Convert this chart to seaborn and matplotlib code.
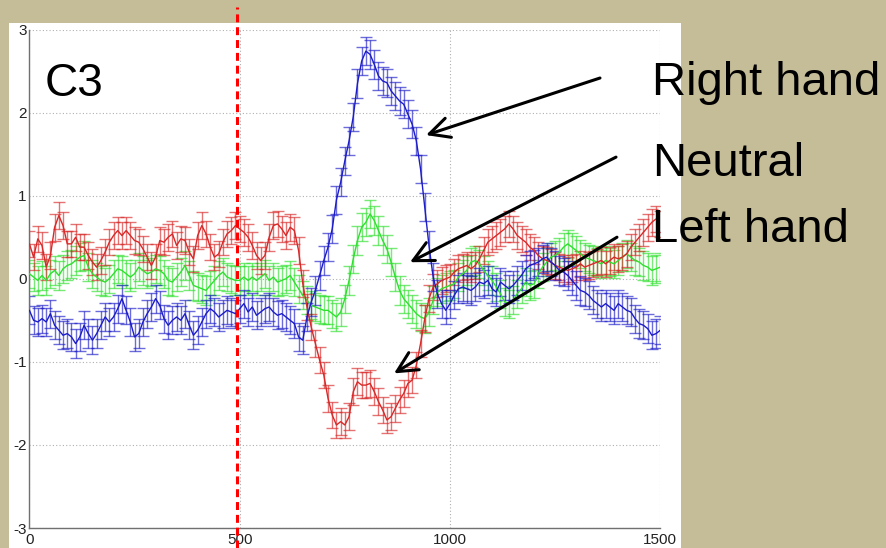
import matplotlib
matplotlib.use("Agg")
import matplotlib.pyplot as plt
import matplotlib.patches as mpatches
import pandas as pd
import seaborn as sns

# Grand-average ERP at electrode C3, one sample every 10 ms from 0 to 1500 ms
time_ms = list(range(0, 1501, 10))

right_hand = [
    -0.38, -0.50, -0.52, -0.48, -0.52, -0.42, -0.56, -0.62, -0.68, -0.66,
    -0.70, -0.78, -0.70, -0.56, -0.66, -0.74, -0.66, -0.56, -0.46, -0.52,
    -0.46, -0.36, -0.24, -0.38, -0.52, -0.70, -0.66, -0.52, -0.42, -0.34,
    -0.24, -0.32, -0.48, -0.56, -0.50, -0.46, -0.50, -0.42, -0.56, -0.68,
    -0.62, -0.52, -0.42, -0.36, -0.40, -0.46, -0.42, -0.38, -0.40, -0.42,
    -0.36, -0.30, -0.40, -0.34, -0.44, -0.40, -0.36, -0.34, -0.40, -0.44,
    -0.42, -0.46, -0.50, -0.54, -0.70, -0.74, -0.46, -0.28, -0.14, 0.04,
    0.22, 0.38, 0.60, 0.95, 1.16, 1.42, 1.66, 1.95, 2.35, 2.62,
    2.74, 2.70, 2.58, 2.44, 2.38, 2.36, 2.26, 2.20, 2.14, 2.10,
    1.98, 1.86, 1.66, 1.32, 0.86, 0.40, 0.02, -0.18, -0.30, -0.38,
    -0.30, -0.20, -0.12, -0.10, -0.12, -0.14, -0.10, -0.04, -0.06, -0.02,
    -0.12, -0.16, -0.04, -0.08, -0.12, -0.08, -0.02, 0.04, 0.12, 0.16,
    0.18, 0.20, 0.24, 0.26, 0.20, 0.16, 0.10, 0.08, 0.04, -0.02,
    -0.08, -0.14, -0.16, -0.20, -0.26, -0.30, -0.34, -0.30, -0.34, -0.38,
    -0.30, -0.34, -0.38, -0.40, -0.48, -0.54, -0.56, -0.60, -0.68, -0.66,
    -0.62,
]

neutral = [
    0.06, 0.02, -0.02, 0.04, -0.02, 0.06, 0.10, 0.04, 0.12, 0.16,
    0.18, 0.22, 0.26, 0.28, 0.14, 0.06, 0.02, -0.02, -0.04, 0.00,
    0.06, 0.12, 0.10, 0.06, 0.02, 0.06, 0.14, 0.10, 0.06, 0.08,
    0.12, 0.10, 0.06, -0.02, -0.04, 0.02, 0.08, 0.16, 0.04, -0.08,
    -0.10, -0.12, -0.14, -0.08, -0.02, 0.04, 0.08, 0.02, 0.00, -0.02,
    -0.02, 0.02, -0.02, 0.02, -0.02, 0.02, 0.06, -0.02, 0.02, -0.04,
    -0.02, 0.00, 0.04, -0.04, -0.12, -0.20, -0.26, -0.32, -0.34, -0.36,
    -0.38, -0.38, -0.42, -0.46, -0.40, -0.24, -0.02, 0.24, 0.46, 0.62,
    0.68, 0.78, 0.70, 0.58, 0.46, 0.36, 0.20, 0.02, -0.14, -0.24,
    -0.30, -0.36, -0.42, -0.46, -0.48, -0.40, -0.26, -0.16, -0.12, -0.10,
    -0.08, -0.06, 0.02, 0.06, 0.10, 0.20, 0.22, 0.18, 0.10, 0.04,
    -0.02, -0.10, -0.18, -0.28, -0.30, -0.26, -0.18, -0.12, -0.04, -0.08,
    -0.06, 0.06, 0.14, 0.20, 0.26, 0.28, 0.32, 0.38, 0.42, 0.38,
    0.34, 0.30, 0.26, 0.24, 0.22, 0.20, 0.18, 0.22, 0.20, 0.18,
    0.22, 0.26, 0.30, 0.26, 0.22, 0.20, 0.16, 0.14, 0.10, 0.12,
    0.14,
]

left_hand = [
    0.42, 0.26, 0.48, 0.40, 0.14, 0.28, 0.62, 0.76, 0.64, 0.42,
    0.42, 0.50, 0.38, 0.38, 0.28, 0.20, 0.14, 0.22, 0.32, 0.44,
    0.52, 0.58, 0.52, 0.58, 0.52, 0.46, 0.44, 0.36, 0.26, 0.16,
    0.26, 0.46, 0.44, 0.50, 0.54, 0.40, 0.48, 0.46, 0.32, 0.24,
    0.52, 0.64, 0.54, 0.38, 0.26, 0.30, 0.44, 0.54, 0.58, 0.64,
    0.60, 0.56, 0.50, 0.40, 0.28, 0.22, 0.28, 0.50, 0.64, 0.66,
    0.60, 0.52, 0.62, 0.58, 0.34, -0.06, -0.34, -0.58, -0.78, -0.98,
    -1.16, -1.44, -1.64, -1.76, -1.72, -1.76, -1.66, -1.36, -1.24, -1.28,
    -1.28, -1.26, -1.36, -1.48, -1.58, -1.70, -1.66, -1.56, -1.46, -1.38,
    -1.26, -1.22, -1.04, -0.78, -0.48, -0.24, -0.10, -0.06, -0.02, 0.00,
    0.02, 0.08, 0.12, 0.14, 0.16, 0.12, 0.16, 0.24, 0.34, 0.44,
    0.48, 0.52, 0.56, 0.60, 0.66, 0.60, 0.52, 0.48, 0.44, 0.38,
    0.34, 0.28, 0.24, 0.22, 0.20, 0.16, 0.14, 0.12, 0.10, 0.12,
    0.14, 0.18, 0.14, 0.16, 0.18, 0.20, 0.22, 0.18, 0.22, 0.26,
    0.24, 0.26, 0.30, 0.38, 0.44, 0.50, 0.56, 0.62, 0.68, 0.72,
    0.66,
]

# standard error half-widths per condition
right_sem = 0.17
neutral_sem = 0.17
left_sem = 0.16

conditions = ["Neutral", "Left hand", "Right hand"]
colors = {"Right hand": "#1c1cc8", "Neutral": "#2ee02e", "Left hand": "#d82828"}
x_ticks = [0, 500, 1000, 1500]
y_ticks = [-3, -2, -1, 0, 1, 2, 3]
stimulus_ms = 494

series = {"Right hand": right_hand, "Neutral": neutral, "Left hand": left_hand}
sems = {"Right hand": right_sem, "Neutral": neutral_sem, "Left hand": left_sem}
for name, vals in series.items():
    assert len(vals) == len(time_ms), name

df = pd.concat(
    [pd.DataFrame({"time": time_ms, "amp": series[c], "cond": c}) for c in conditions],
    ignore_index=True,
)

sns.set_style("white")
plt.rcParams["font.family"] = ["Liberation Sans", "DejaVu Sans"]
plt.rcParams["axes.unicode_minus"] = False

W, H = 886, 548
fig = plt.figure(figsize=(W / 100, H / 100), dpi=100, facecolor="#c5bc98")

# white slide panel behind the plot
fig.patches.append(mpatches.Rectangle(
    (9 / W, 0), (681 - 9) / W, (H - 23) / H,
    transform=fig.transFigure, facecolor="white", edgecolor="none", zorder=-10))

ax = fig.add_axes([29.4 / W, 20 / H, (660.3 - 29.4) / W, 498.5 / H])
ax.set_facecolor("white")

for c in conditions:
    sub = df[df["cond"] == c]
    ax.errorbar(sub["time"], sub["amp"], yerr=sems[c], fmt="none",
                ecolor=colors[c], elinewidth=1.0, capsize=4.0, capthick=1.0,
                alpha=0.65, zorder=2)

sns.lineplot(data=df, x="time", y="amp", hue="cond", hue_order=conditions,
             palette=colors, linewidth=1.0, legend=False, ax=ax, zorder=3,
             estimator=None, sort=False)

ax.set_xlim(0, 1500)
ax.set_ylim(-3, 3)
ax.set_xticks(x_ticks)
ax.set_yticks(y_ticks)
ax.set_xticklabels([str(v) for v in x_ticks])
ax.set_yticklabels([str(v) for v in y_ticks])
ax.set_xlabel("")
ax.set_ylabel("")
ax.grid(True, linestyle=(0, (1, 2)), color="#b0b0b0", linewidth=0.8)
ax.set_axisbelow(True)

for side in ["top", "right"]:
    ax.spines[side].set_visible(False)
for side in ["left", "bottom"]:
    ax.spines[side].set_color("#707070")
    ax.spines[side].set_linewidth(1.0)

ax.tick_params(axis="both", direction="in", length=4, width=0.8,
               color="#707070", labelsize=11, labelcolor="#222222")
ax.tick_params(axis="x", pad=3.5)
ax.tick_params(axis="y", pad=2)

# stimulus onset marker
ax.axvline(stimulus_ms, ymin=-0.04, ymax=1.045, color="#ff0000", linewidth=2.2,
           linestyle=(0, (2.6, 1.6)), clip_on=False, zorder=6)

# channel name and condition labels
fig.text(45 / W, 1 - 96.5 / H, "C3", fontsize=33, color="black", va="baseline")
label_pos = {"Right hand": 95, "Neutral": 175.7, "Left hand": 241.7}
for c, base in label_pos.items():
    fig.text(652 / W, 1 - base / H, c, fontsize=34, color="black", va="baseline",
             zorder=7)

arrows = {
    "Right hand": ((1356.6, 2.416), (943.0, 1.729)),
    "Neutral": ((1394.7, 1.464), (904.8, 0.199)),
    "Left hand": ((1397.0, 0.500), (866.9, -1.139)),
}
for c, (start, tip) in arrows.items():
    ax.annotate("", xy=tip, xytext=start, xycoords="data", textcoords="data",
                annotation_clip=False,
                arrowprops=dict(arrowstyle="->, head_length=0.72, head_width=0.36",
                                mutation_scale=20, color="black", lw=2.2,
                                shrinkA=0, shrinkB=0),
                zorder=8)

fig.savefig("out.png", dpi=100, facecolor=fig.get_facecolor())
